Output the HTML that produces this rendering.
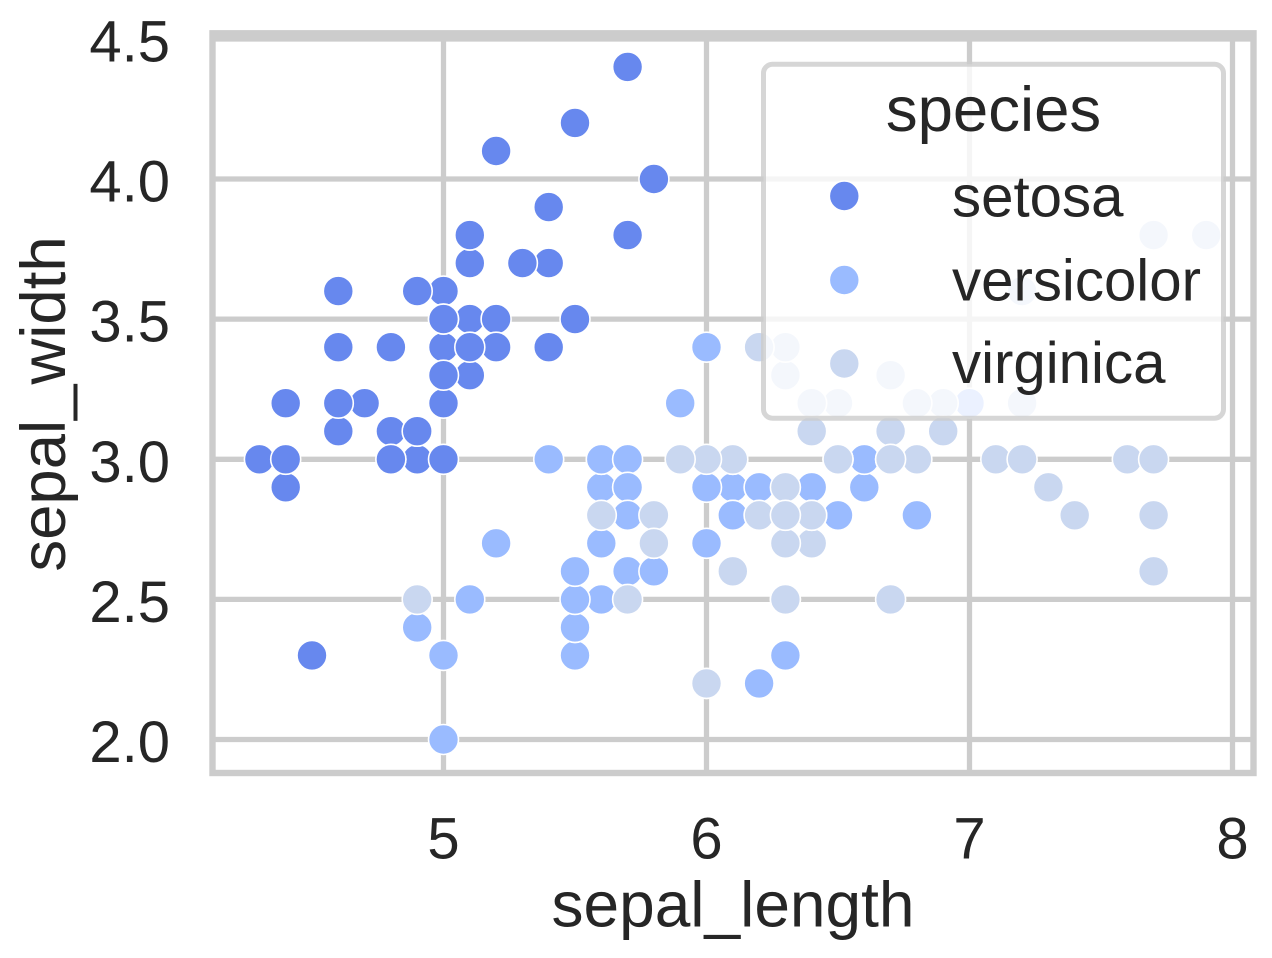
<!DOCTYPE html>
<html><head><meta charset="utf-8"><style>
html,body{margin:0;padding:0;background:#fff;}
svg{display:block;}
text{font-family:"Liberation Sans",Arial,sans-serif;fill:#262626;}
.s{fill:#6788ee;stroke:#fff;stroke-width:1.6;}
.v{fill:#9abbff;stroke:#fff;stroke-width:1.6;}
.g{fill:#c9d7f0;stroke:#fff;stroke-width:1.6;}
</style></head><body>
<svg width="1272" height="958" viewBox="0 0 1272 958" xmlns="http://www.w3.org/2000/svg">
<rect x="0" y="0" width="1272" height="958" fill="#fff"/>
<defs><clipPath id="ax"><rect x="212.5" y="33.3" width="1041" height="739.7"/></clipPath></defs>
<g stroke="#cccccc" stroke-width="5.3" clip-path="url(#ax)">
<line x1="443.5" y1="30" x2="443.5" y2="776"/>
<line x1="706.5" y1="30" x2="706.5" y2="776"/>
<line x1="969.5" y1="30" x2="969.5" y2="776"/>
<line x1="1232.5" y1="30" x2="1232.5" y2="776"/>
<line x1="209" y1="39" x2="1257" y2="39"/>
<line x1="209" y1="179" x2="1257" y2="179"/>
<line x1="209" y1="319.1" x2="1257" y2="319.1"/>
<line x1="209" y1="459.3" x2="1257" y2="459.3"/>
<line x1="209" y1="599.4" x2="1257" y2="599.4"/>
<line x1="209" y1="739.5" x2="1257" y2="739.5"/>
</g>
<g clip-path="url(#ax)">
<g class="s">
<circle cx="469.8" cy="319.1" r="15"/><circle cx="417.2" cy="459.3" r="15"/><circle cx="364.6" cy="403.2" r="15"/><circle cx="338.3" cy="431.2" r="15"/><circle cx="443.5" cy="291.1" r="15"/>
<circle cx="548.7" cy="207.1" r="15"/><circle cx="338.3" cy="347.2" r="15"/><circle cx="443.5" cy="347.2" r="15"/><circle cx="285.7" cy="487.3" r="15"/><circle cx="417.2" cy="431.2" r="15"/>
<circle cx="548.7" cy="263.1" r="15"/><circle cx="390.9" cy="347.2" r="15"/><circle cx="390.9" cy="459.3" r="15"/><circle cx="259.4" cy="459.3" r="15"/><circle cx="653.9" cy="179" r="15"/>
<circle cx="627.6" cy="66.9" r="15"/><circle cx="548.7" cy="207.1" r="15"/><circle cx="469.8" cy="319.1" r="15"/><circle cx="627.6" cy="235.1" r="15"/><circle cx="469.8" cy="235.1" r="15"/>
<circle cx="548.7" cy="347.2" r="15"/><circle cx="469.8" cy="263.1" r="15"/><circle cx="338.3" cy="291.1" r="15"/><circle cx="469.8" cy="375.2" r="15"/><circle cx="390.9" cy="347.2" r="15"/>
<circle cx="443.5" cy="459.3" r="15"/><circle cx="443.5" cy="347.2" r="15"/><circle cx="496.1" cy="319.1" r="15"/><circle cx="496.1" cy="347.2" r="15"/><circle cx="364.6" cy="403.2" r="15"/>
<circle cx="390.9" cy="431.2" r="15"/><circle cx="548.7" cy="347.2" r="15"/><circle cx="496.1" cy="151" r="15"/><circle cx="575" cy="122.9" r="15"/><circle cx="417.2" cy="431.2" r="15"/>
<circle cx="443.5" cy="403.2" r="15"/><circle cx="575" cy="319.1" r="15"/><circle cx="417.2" cy="291.1" r="15"/><circle cx="285.7" cy="459.3" r="15"/><circle cx="469.8" cy="347.2" r="15"/>
<circle cx="443.5" cy="319.1" r="15"/><circle cx="312" cy="655.4" r="15"/><circle cx="285.7" cy="403.2" r="15"/><circle cx="443.5" cy="319.1" r="15"/><circle cx="469.8" cy="235.1" r="15"/>
<circle cx="390.9" cy="459.3" r="15"/><circle cx="469.8" cy="235.1" r="15"/><circle cx="338.3" cy="403.2" r="15"/><circle cx="522.4" cy="263.1" r="15"/><circle cx="443.5" cy="375.2" r="15"/>
</g>
<g class="v">
<circle cx="969.5" cy="403.2" r="15"/><circle cx="811.7" cy="403.2" r="15"/><circle cx="943.2" cy="431.2" r="15"/><circle cx="575" cy="655.4" r="15"/><circle cx="838" cy="515.3" r="15"/>
<circle cx="627.6" cy="515.3" r="15"/><circle cx="785.4" cy="375.2" r="15"/><circle cx="417.2" cy="627.4" r="15"/><circle cx="864.3" cy="487.3" r="15"/><circle cx="496.1" cy="543.3" r="15"/>
<circle cx="443.5" cy="739.5" r="15"/><circle cx="680.2" cy="459.3" r="15"/><circle cx="706.5" cy="683.4" r="15"/><circle cx="732.8" cy="487.3" r="15"/><circle cx="601.3" cy="487.3" r="15"/>
<circle cx="890.6" cy="431.2" r="15"/><circle cx="601.3" cy="459.3" r="15"/><circle cx="653.9" cy="543.3" r="15"/><circle cx="759.1" cy="683.4" r="15"/><circle cx="601.3" cy="599.4" r="15"/>
<circle cx="680.2" cy="403.2" r="15"/><circle cx="732.8" cy="515.3" r="15"/><circle cx="785.4" cy="599.4" r="15"/><circle cx="732.8" cy="515.3" r="15"/><circle cx="811.7" cy="487.3" r="15"/>
<circle cx="864.3" cy="459.3" r="15"/><circle cx="916.9" cy="515.3" r="15"/><circle cx="890.6" cy="459.3" r="15"/><circle cx="706.5" cy="487.3" r="15"/><circle cx="627.6" cy="571.3" r="15"/>
<circle cx="575" cy="627.4" r="15"/><circle cx="575" cy="627.4" r="15"/><circle cx="653.9" cy="543.3" r="15"/><circle cx="706.5" cy="543.3" r="15"/><circle cx="548.7" cy="459.3" r="15"/>
<circle cx="706.5" cy="347.2" r="15"/><circle cx="890.6" cy="431.2" r="15"/><circle cx="785.4" cy="655.4" r="15"/><circle cx="601.3" cy="459.3" r="15"/><circle cx="575" cy="599.4" r="15"/>
<circle cx="575" cy="571.3" r="15"/><circle cx="732.8" cy="459.3" r="15"/><circle cx="653.9" cy="571.3" r="15"/><circle cx="443.5" cy="655.4" r="15"/><circle cx="601.3" cy="543.3" r="15"/>
<circle cx="627.6" cy="459.3" r="15"/><circle cx="627.6" cy="487.3" r="15"/><circle cx="759.1" cy="487.3" r="15"/><circle cx="469.8" cy="599.4" r="15"/><circle cx="627.6" cy="515.3" r="15"/>
</g>
<g class="g">
<circle cx="785.4" cy="375.2" r="15"/><circle cx="653.9" cy="543.3" r="15"/><circle cx="995.8" cy="459.3" r="15"/><circle cx="785.4" cy="487.3" r="15"/><circle cx="838" cy="459.3" r="15"/>
<circle cx="1127.3" cy="459.3" r="15"/><circle cx="417.2" cy="599.4" r="15"/><circle cx="1048.4" cy="487.3" r="15"/><circle cx="890.6" cy="599.4" r="15"/><circle cx="1022.1" cy="291.1" r="15"/>
<circle cx="838" cy="403.2" r="15"/><circle cx="811.7" cy="543.3" r="15"/><circle cx="916.9" cy="459.3" r="15"/><circle cx="627.6" cy="599.4" r="15"/><circle cx="653.9" cy="515.3" r="15"/>
<circle cx="811.7" cy="403.2" r="15"/><circle cx="838" cy="459.3" r="15"/><circle cx="1153.6" cy="235.1" r="15"/><circle cx="1153.6" cy="571.3" r="15"/><circle cx="706.5" cy="683.4" r="15"/>
<circle cx="943.2" cy="403.2" r="15"/><circle cx="601.3" cy="515.3" r="15"/><circle cx="1153.6" cy="515.3" r="15"/><circle cx="785.4" cy="543.3" r="15"/><circle cx="890.6" cy="375.2" r="15"/>
<circle cx="1022.1" cy="403.2" r="15"/><circle cx="759.1" cy="515.3" r="15"/><circle cx="732.8" cy="459.3" r="15"/><circle cx="811.7" cy="515.3" r="15"/><circle cx="1022.1" cy="459.3" r="15"/>
<circle cx="1074.7" cy="515.3" r="15"/><circle cx="1206.2" cy="235.1" r="15"/><circle cx="811.7" cy="515.3" r="15"/><circle cx="785.4" cy="515.3" r="15"/><circle cx="732.8" cy="571.3" r="15"/>
<circle cx="1153.6" cy="459.3" r="15"/><circle cx="785.4" cy="347.2" r="15"/><circle cx="811.7" cy="431.2" r="15"/><circle cx="706.5" cy="459.3" r="15"/><circle cx="943.2" cy="431.2" r="15"/>
<circle cx="890.6" cy="431.2" r="15"/><circle cx="943.2" cy="431.2" r="15"/><circle cx="653.9" cy="543.3" r="15"/><circle cx="916.9" cy="403.2" r="15"/><circle cx="890.6" cy="375.2" r="15"/>
<circle cx="890.6" cy="459.3" r="15"/><circle cx="785.4" cy="599.4" r="15"/><circle cx="838" cy="459.3" r="15"/><circle cx="759.1" cy="347.2" r="15"/><circle cx="680.2" cy="459.3" r="15"/>
</g>
</g>
<rect x="212.5" y="33.3" width="1041" height="739.7" fill="none" stroke="#cccccc" stroke-width="6.4"/>
<g font-size="58" text-anchor="end">
<text x="170" y="61.5">4.5</text>
<text x="170" y="201.5">4.0</text>
<text x="170" y="341.6">3.5</text>
<text x="170" y="481.8">3.0</text>
<text x="170" y="621.9">2.5</text>
<text x="170" y="762">2.0</text>
</g>
<g font-size="58" text-anchor="middle">
<text x="443.5" y="858.5">5</text>
<text x="706.5" y="858.5">6</text>
<text x="969.5" y="858.5">7</text>
<text x="1232.5" y="858.5">8</text>
</g>
<text x="733" y="926.5" font-size="64" text-anchor="middle">sepal_length</text>
<text transform="translate(65,404) rotate(-90)" font-size="63.5" text-anchor="middle">sepal_width</text>
<rect x="763.5" y="64.2" width="460" height="354" rx="9" ry="9" fill="#ffffff" fill-opacity="0.8" stroke="#cccccc" stroke-opacity="0.8" stroke-width="5"/>
<text x="993.5" y="131" font-size="63.5" text-anchor="middle">species</text>
<circle class="s" cx="844.3" cy="196" r="15"/>
<circle class="v" cx="844.3" cy="280" r="15"/>
<circle class="g" cx="844.3" cy="363.5" r="15"/>
<g font-size="58.2">
<text x="952" y="216.5">setosa</text>
<text x="952" y="300.5">versicolor</text>
<text x="952" y="383">virginica</text>
</g>
</svg>
</body></html>
